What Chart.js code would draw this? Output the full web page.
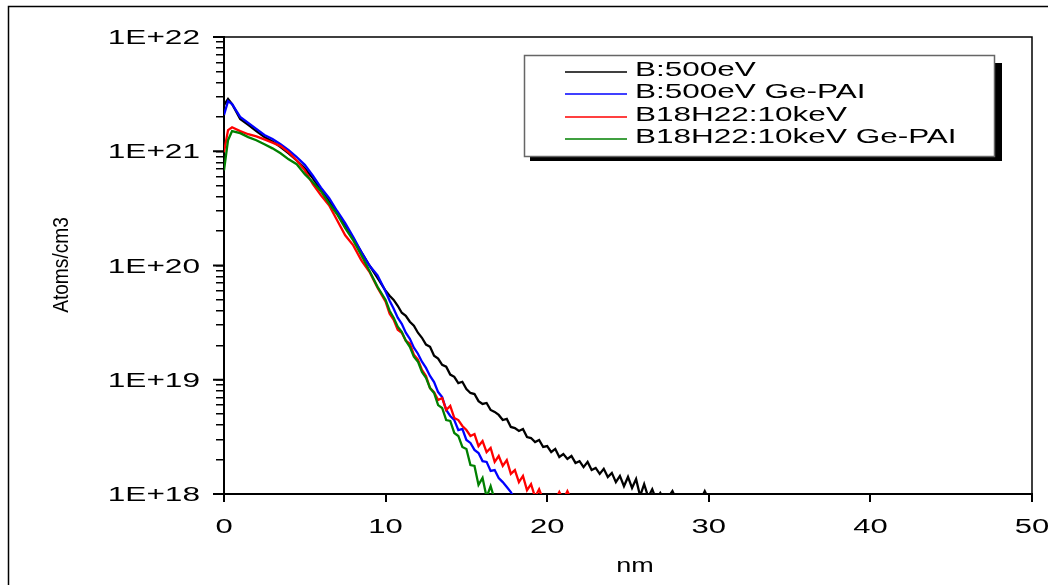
<!DOCTYPE html>
<html>
<head>
<meta charset="utf-8">
<title>Boron depth profile</title>
<script src="https://cdn.jsdelivr.net/npm/chart.js@4.4.1/dist/chart.umd.min.js"></script>
<style>
  body { margin: 0; background: #fff; }
  #wrap { width: 1048px; height: 585px; }
</style>
</head>
<body>
<div id="wrap"><canvas id="profile" width="1048" height="585"></canvas></div>
<script>
// ================= DATA =================
// depth in nm (fine steps in the noisy tail)
const depth = [
  0, 0.25, 0.5, 1, 1.5, 2, 2.5, 3, 3.5, 4, 4.5, 5, 5.5, 6, 6.5, 7, 7.5, 8, 8.5, 9, 9.5,
  10, 10.25, 10.5, 10.75, 11, 11.25, 11.5, 11.75, 12, 12.25, 12.5, 12.75, 13, 13.25, 13.5, 13.75,
  14, 14.25, 14.5, 14.75, 15, 15.25, 15.5, 15.75, 16, 16.25, 16.5, 16.75, 17, 17.25, 17.5, 17.75,
  18, 18.25, 18.5, 18.75, 19, 19.25, 19.5, 19.75, 20, 20.25, 20.5, 20.75, 21, 21.25, 21.5, 21.75,
  22, 22.25, 22.5, 22.75, 23, 23.25, 23.5, 23.75, 24, 24.25, 24.5, 24.75, 25, 25.25, 25.5, 25.75,
  26, 26.25, 26.5, 26.75, 27, 27.25, 27.5, 27.75, 28, 28.25, 28.5, 28.75, 29, 29.25, 29.5, 29.75, 30
];

// Atoms/cm3, one value per depth entry (series end where the profile drops off)
const b500 = [
  2.54e21, 2.87e21, 2.59e21, 1.92e21, 1.70e21, 1.50e21, 1.33e21, 1.22e21, 1.09e21, 9.6e20, 8.3e20,
  7.1e20, 5.8e20, 4.6e20, 3.7e20, 2.85e20, 2.24e20, 1.72e20, 1.31e20, 1.0e20, 7.8e19,
  6.0e19, 5.44e19, 5.0e19, 4.44e19, 3.86e19, 3.63e19, 3.22e19, 2.97e19, 2.58e19, 2.33e19, 2.03e19, 1.94e19,
  1.62e19, 1.53e19, 1.35e19, 1.30e19, 1.11e19, 1.06e19, 9.35e18, 9.6e18,
  8.3e18, 7.66e18, 7.5e18, 6.5e18, 6.14e18, 6.26e18, 5.44e18, 5.23e18, 4.92e18, 4.44e18, 4.54e18, 3.86e18,
  3.78e18, 3.56e18, 3.71e18, 3.15e18, 3.09e18, 2.85e18, 2.97e18, 2.58e18,
  2.63e18, 2.33e18, 2.48e18, 2.11e18, 2.24e18, 2.03e18, 2.15e18, 1.87e18, 1.94e18, 1.72e18, 1.91e18, 1.62e18,
  1.69e18, 1.5e18, 1.66e18, 1.41e18, 1.53e18, 1.27e18, 1.44e18, 1.17e18,
  1.41e18, 1.13e18, 1.35e18, 9.6e17, 1.22e18, 9.4e17, 1.1e18, 8.9e17, 1.02e18, 8.9e17, 9.4e17, 1.06e18,
  8.9e17, 8.9e17, 9.4e17, 8.9e17, 8.9e17, 8.9e17, 8.9e17, 1.06e18, 8.9e17
];

const b500Pai = [
  2.08e21, 2.75e21, 2.59e21, 2.0e21, 1.77e21, 1.57e21, 1.39e21, 1.28e21, 1.15e21, 1.02e21, 8.9e20,
  7.6e20, 6.1e20, 4.8e20, 3.9e20, 3.0e20, 2.35e20, 1.77e20, 1.31e20, 1.0e20, 8.2e19,
  5.93e19, 4.92e19, 4.18e19, 3.49e19, 3.09e19, 2.58e19, 2.28e19, 1.91e19, 1.69e19, 1.44e19, 1.27e19, 1.08e19,
  9.55e18, 7.8e18, 7.06e18, 5.44e18, 4.82e18, 4.44e18, 3.63e18, 3.71e18,
  2.97e18, 2.8e18, 2.43e18, 2.28e18, 1.94e18, 1.91e18, 1.59e18, 1.62e18, 1.38e18, 1.27e18, 1.15e18, 1.04e18,
  8.9e17
];

const b18h22 = [
  9.8e20, 1.53e21, 1.62e21, 1.50e21, 1.41e21, 1.35e21, 1.27e21, 1.19e21, 1.11e21, 9.8e20, 8.3e20,
  6.8e20, 5.15e20, 4.12e20, 3.37e20, 2.49e20, 1.84e20, 1.5e20, 1.11e20, 8.8e19, 6.4e19,
  4.82e19, 3.78e19, 3.35e19, 2.74e19, 2.58e19, 2.2e19, 2.07e19, 1.66e19, 1.5e19, 1.22e19, 1.08e19, 8.45e18,
  7.8e18, 6.65e18, 6.92e18, 5.44e18, 5.9e18, 4.63e18, 4.44e18, 3.94e18,
  3.63e18, 3.22e18, 3.35e18, 2.63e18, 2.91e18, 2.33e18, 2.53e18, 1.91e18, 2.15e18, 1.76e18, 1.98e18, 1.5e18,
  1.62e18, 1.27e18, 1.44e18, 1.08e18, 1.22e18, 9.4e17, 1.1e18, 8.9e17,
  8.9e17, 8.9e17, 8.9e17, 1.04e18, 8.9e17, 1.06e18, 8.9e17
];

const b18h22Pai = [
  6.8e20, 1.25e21, 1.5e21, 1.44e21, 1.33e21, 1.25e21, 1.15e21, 1.06e21, 9.6e20, 8.5e20, 7.7e20,
  6.3e20, 5.35e20, 4.47e20, 3.5e20, 2.81e20, 2.12e20, 1.66e20, 1.23e20, 9.0e19, 6.5e19,
  5.0e19, 4.02e19, 3.49e19, 2.91e19, 2.63e19, 2.2e19, 1.94e19, 1.59e19, 1.44e19, 1.17e19, 1.04e19, 8.45e18,
  7.66e18, 6.0e18, 5.66e18, 4.44e18, 4.36e18, 3.42e18, 3.22e18, 2.58e18,
  2.48e18, 1.79e18, 1.76e18, 1.2e18, 1.38e18, 9.4e17, 1.17e18, 8.9e17
];

const seriesNames = ['B:500eV', 'B:500eV Ge-PAI', 'B18H22:10keV', 'B18H22:10keV Ge-PAI'];
const seriesColors = ['#000000', '#0000ff', '#ff0000', '#008000'];
const seriesValues = [b500, b500Pai, b18h22, b18h22Pai];

const xTicks = [0, 10, 20, 30, 40, 50];
const xTickLabels = ['0', '10', '20', '30', '40', '50'];
const yTicks = [1e18, 1e19, 1e20, 1e21, 1e22];
const yTickLabels = ['1E+18', '1E+19', '1E+20', '1E+21', '1E+22'];
const xTitle = 'nm';
const yTitle = 'Atoms/cm3';

// minor ticks 2..9 in every decade
const yMinorTicks = [];
for (let d = 18; d < 22; d++) {
    yMinorTicks.push(Math.pow(10, d));
    for (let m = 2; m <= 9; m++) yMinorTicks.push(m * Math.pow(10, d));
}
yMinorTicks.push(1e22);

const FONT = '"Liberation Sans", Arial, sans-serif';

// draws text stretched horizontally like the original export
function wideText(ctx, text, x, y, size, stretch, align) {
    ctx.save();
    ctx.translate(x, y);
    ctx.scale(stretch, 1);
    ctx.font = size + 'px ' + FONT;
    ctx.textAlign = align;
    ctx.textBaseline = 'alphabetic';
    ctx.fillStyle = '#000';
    ctx.fillText(text, 0, 0);
    ctx.restore();
}

// ================= DECORATION PLUGIN =================
const decor = {
    id: 'decor',
    beforeDraw(chart) {
        const ctx = chart.ctx;
        ctx.save();
        ctx.fillStyle = '#fff';
        ctx.fillRect(0, 0, chart.width, chart.height);
        ctx.restore();
    },
    afterDraw(chart) {
        const ctx = chart.ctx;
        const area = chart.chartArea;
        const xs = chart.scales.x;
        const ys = chart.scales.y;
        ctx.save();

        // outer frame (left and top visible)
        ctx.strokeStyle = '#000';
        ctx.lineWidth = 1.5;
        ctx.beginPath();
        ctx.moveTo(8.5, 600);
        ctx.lineTo(8.5, 6.5);
        ctx.lineTo(1060, 6.5);
        ctx.stroke();

        // top and right of plot box
        ctx.lineWidth = 1.5;
        ctx.beginPath();
        ctx.moveTo(area.left, area.top);
        ctx.lineTo(area.right, area.top);
        ctx.lineTo(area.right, area.bottom);
        ctx.stroke();

        // longer major ticks on y
        ctx.lineWidth = 2;
        yTicks.forEach(v => {
            const py = ys.getPixelForValue(v);
            ctx.beginPath();
            ctx.moveTo(area.left - 11, py);
            ctx.lineTo(area.left, py);
            ctx.stroke();
        });

        // tick labels
        yTicks.forEach((v, i) => {
            wideText(ctx, yTickLabels[i], 200, ys.getPixelForValue(v) + 7, 20, 1.58, 'right');
        });
        xTicks.forEach((v, i) => {
            wideText(ctx, xTickLabels[i], xs.getPixelForValue(v), 533, 20, 1.55, 'center');
        });

        // axis titles
        wideText(ctx, xTitle, 635, 572, 20, 1.35, 'center');
        ctx.save();
        ctx.translate(62, 265);
        ctx.rotate(-Math.PI / 2);
        ctx.scale(0.87, 1);
        ctx.font = '22px ' + FONT;
        ctx.textAlign = 'center';
        ctx.textBaseline = 'middle';
        ctx.fillStyle = '#000';
        ctx.fillText(yTitle, 0, 0);
        ctx.restore();

        // legend with drop shadow
        ctx.fillStyle = '#000';
        ctx.fillRect(530, 63, 472, 98);
        ctx.fillStyle = '#fff';
        ctx.fillRect(524, 55, 471, 102);
        ctx.strokeStyle = '#666';
        ctx.lineWidth = 1.5;
        ctx.strokeRect(524.5, 55.5, 470, 101);
        const rowLine = [72, 94, 117, 139];
        seriesNames.forEach((name, i) => {
            ctx.strokeStyle = seriesColors[i];
            ctx.lineWidth = 1.6;
            ctx.beginPath();
            ctx.moveTo(565, rowLine[i]);
            ctx.lineTo(627, rowLine[i]);
            ctx.stroke();
            wideText(ctx, name, 635, rowLine[i] + 4, 21, 1.5, 'left');
        });

        ctx.restore();
    }
};

// ================= CHART =================
const datasets = seriesValues.map((vals, i) => ({
    label: seriesNames[i],
    data: vals.map((v, j) => ({ x: depth[j], y: v })),
    borderColor: seriesColors[i],
    borderWidth: 2.3,
    pointRadius: 0,
    tension: 0,
    fill: false,
    order: seriesValues.length - i   // green on top, black at the bottom
}));

new Chart(document.getElementById('profile'), {
    type: 'line',
    data: { datasets },
    options: {
        responsive: false,
        animation: false,
        devicePixelRatio: 1,
        layout: { padding: { left: 0, top: 37, right: 16, bottom: 0 } },
        plugins: { legend: { display: false }, tooltip: { enabled: false } },
        scales: {
            x: {
                type: 'linear', min: 0, max: 50,
                afterBuildTicks: s => { s.ticks = xTicks.map(v => ({ value: v })); },
                afterFit: s => { s.height = 91; },
                grid: { drawOnChartArea: false, drawTicks: true, tickLength: 8, color: '#000', lineWidth: 2 },
                border: { display: true, color: '#000', width: 2 },
                ticks: { display: false }
            },
            y: {
                type: 'logarithmic', min: 1e18, max: 1e22,
                afterBuildTicks: s => { s.ticks = yMinorTicks.map(v => ({ value: v })); },
                afterFit: s => { s.width = 224; },
                grid: { drawOnChartArea: false, drawTicks: true, tickLength: 8, color: '#000', lineWidth: 1.5 },
                border: { display: true, color: '#000', width: 2 },
                ticks: { display: false }
            }
        }
    },
    plugins: [decor]
});
</script>
</body>
</html>
